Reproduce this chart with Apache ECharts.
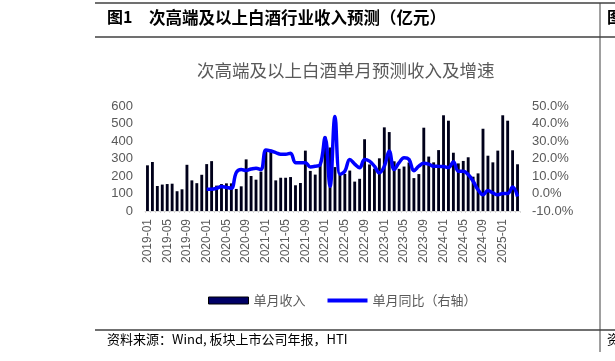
<!DOCTYPE html>
<html><head><meta charset="utf-8">
<script src="https://cdn.jsdelivr.net/npm/echarts@6/dist/echarts.min.js"></script>
<style>html,body{margin:0;padding:0;background:#fff}#c{width:615px;height:361px}</style>
</head><body><div id="c"></div>
<script>
// months 2019-01 .. 2025-04
var categories = [];
(function(){for(var y=2019;y<=2025;y++){for(var m=1;m<=12;m++){if(y===2025&&m>4)break;categories.push(y+'-'+(m<10?'0'+m:m));}}})();
var revenue2019 = [261, 280, 143, 151, 154, 156, 113, 124, 264, 175, 159, 207];
var revenue2020 = [268, 285, 145, 154, 158, 158, 126, 141, 295, 200, 179, 225];
var revenue2021 = [352, 350, 175, 190, 190, 194, 147, 160, 345, 229, 208, 262];
var revenue2022 = [425, 363, 251, 206, 212, 231, 168, 184, 410, 266, 242, 301];
var revenue2023 = [478, 451, 284, 241, 254, 277, 188, 211, 476, 311, 278, 348];
var revenue2024 = [547, 516, 333, 272, 286, 307, 196, 215, 470, 316, 278, 345];
var revenue2025 = [547, 516, 347, 267];
var yoy2019 = [null, null, null, null, null, null, null, null, null, null, null, null];
var yoy2020 = [2.5, 2.5, 3, 4, 3.5, 3, 12, 13.7, 13.2, 14, 14.5, 13.7];
var yoy2021 = [24.9, 24.3, 23.4, 22.4, 22.4, 23, 17.6, 17.6, 17.6, 15.2, 15.6, 16.5];
var yoy2022 = [32, 4, 44, 11, 12.7, 19.5, 16.8, 14.7, 19.5, 18.5, 15.6, 11.8];
var yoy2023 = [15.6, 24.3, 13.7, 17.6, 20.5, 19.5, 13, 15.6, 17.3, 16.8, 15.6, 15.5];
var yoy2024 = [15.4, 14.8, 18.2, 12.7, 12.7, 10.8, 7, 2.1, -0.7, 1.7, 0.3, -0.7];
var yoy2025 = [0, 0, 3.7, -1.7];
var leftTicks = {min: 0, max: 600, interval: 100};
var rightTicks = {min: -10, max: 50, interval: 10};

var revenue = [].concat(revenue2019, revenue2020, revenue2021, revenue2022, revenue2023, revenue2024, revenue2025);
var yoy = [].concat(yoy2019, yoy2020, yoy2021, yoy2022, yoy2023, yoy2024, yoy2025);

var chart = echarts.init(document.getElementById('c'), null, {renderer: 'canvas'});
var gray = '#595959';
var cjk = '"Noto Sans CJK SC", sans-serif';
var latin = '"Liberation Sans", Arial, sans-serif';
chart.setOption({
  animation: false,
  backgroundColor: '#fff',
  grid: {left: 145, width: 375, top: 106, height: 105},
  legend: {
    top: 289, left: 203,
    itemWidth: 40, itemHeight: 7, itemGap: 22,
    textStyle: {color: gray, fontSize: 13, fontFamily: cjk},
    data: [
      {name: '单月收入', icon: 'rect', itemStyle: {color: '#000066', borderColor: '#000', borderWidth: 1}},
      {name: '单月同比（右轴）', icon: 'path://M0,0 L40,0 L40,4 L0,4 Z', itemStyle: {color: '#0000ff'}}
    ]
  },
  xAxis: {
    type: 'category', data: categories, boundaryGap: true,
    axisLine: {lineStyle: {color: '#d9d9d9'}},
    axisTick: {show: true, interval: 0, length: 2, lineStyle: {color: '#d9d9d9'}},
    axisLabel: {interval: 3, rotate: 90, color: gray, fontSize: 12, fontFamily: latin, margin: 8}
  },
  yAxis: [
    {type: 'value', min: leftTicks.min, max: leftTicks.max, interval: leftTicks.interval,
     splitLine: {show: false}, axisLine: {show: false}, axisTick: {show: false},
     axisLabel: {color: gray, fontSize: 13, fontFamily: latin, margin: 12}},
    {type: 'value', min: rightTicks.min, max: rightTicks.max, interval: rightTicks.interval,
     splitLine: {show: false}, axisLine: {show: false}, axisTick: {show: false},
     axisLabel: {color: gray, fontSize: 13, fontFamily: latin, margin: 12,
       formatter: function(v){return v.toFixed(1) + '%';}}}
  ],
  series: [
    {name: '单月收入', type: 'bar', data: revenue, barWidth: '58%',
     itemStyle: {color: '#00001a', borderColor: '#000', borderWidth: 0}},
    {name: '单月同比（右轴）', type: 'line', yAxisIndex: 1, data: yoy, smooth: 0.4,
     showSymbol: false, symbol: 'none', connectNulls: false,
     lineStyle: {color: '#0000ff', width: 3.5}, itemStyle: {color: '#0000ff'}}
  ],
  graphic: [
    {type: 'line', shape: {x1: 95, y1: 3, x2: 615, y2: 3}, style: {stroke: '#404040', lineWidth: 1.5}},
    {type: 'line', shape: {x1: 95, y1: 37, x2: 615, y2: 37}, style: {stroke: '#404040', lineWidth: 1.5}},
    {type: 'line', shape: {x1: 95, y1: 330, x2: 615, y2: 330}, style: {stroke: '#404040', lineWidth: 1.5}},
    {type: 'line', shape: {x1: 600, y1: 3, x2: 600, y2: 352}, style: {stroke: '#404040', lineWidth: 1}},
    {type: 'text', left: 107, top: 9, style: {text: '图1', fill: '#000', font: 'bold 16px ' + cjk}},
    {type: 'text', left: 149, top: 9, style: {text: '次高端及以上白酒行业收入预测（亿元）', fill: '#000', font: 'bold 16.5px ' + cjk}},
    {type: 'text', left: 607, top: 9, style: {text: '图', fill: '#000', font: 'bold 16px ' + cjk}},
    {type: 'text', left: 197, top: 62, style: {text: '次高端及以上白酒单月预测收入及增速', fill: gray, font: '17.5px ' + cjk}},
    {type: 'text', left: 107, top: 333, style: {text: '资料来源：Wind, 板块上市公司年报，HTI', fill: '#000', font: '13px ' + cjk}},
    {type: 'text', left: 607, top: 333, style: {text: '资', fill: '#000', font: '13px ' + cjk}}
  ]
});
</script></body></html>
